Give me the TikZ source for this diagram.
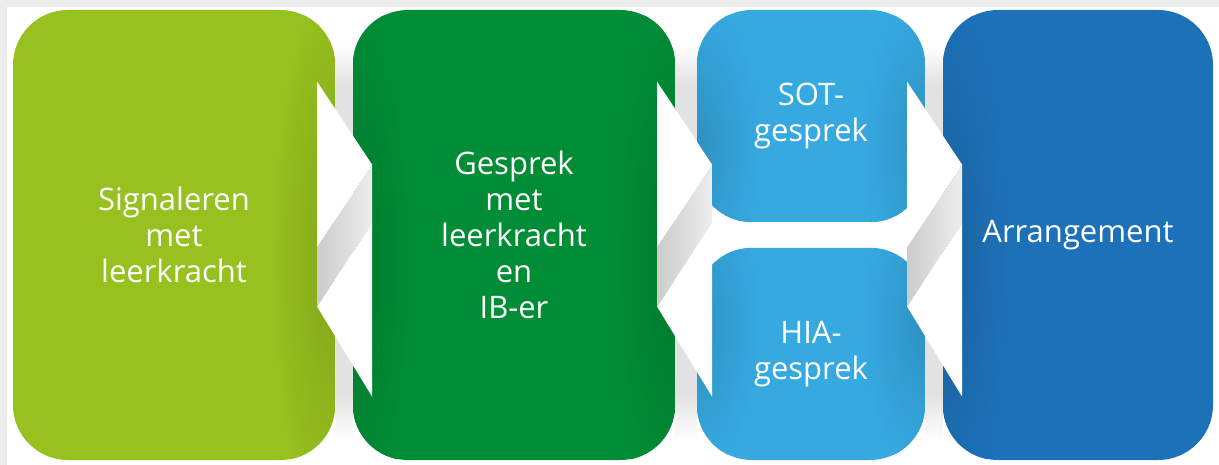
\documentclass[tikz,border=0pt]{standalone}
\usepackage{fontspec}
\setmainfont{Open Sans}
\usetikzlibrary{calc}
\definecolor{limec}{RGB}{150,193,30}
\definecolor{greenc}{RGB}{0,141,54}
\definecolor{lightbluec}{RGB}{54,169,225}
\definecolor{darkbluec}{RGB}{29,113,184}
\definecolor{framec}{RGB}{236,236,236}
\definecolor{gapc}{RGB}{226,226,226}
\newcommand\ribbon[2]{%
  % #1 node on the left, #2 node on the right (for the gap)
  \coordinate (#1-a1) at ($(#1.north east)+(-18,72)$);
  \coordinate (#1-a2) at ($(#1.north east)+(37,155)$);
  \coordinate (#1-a3) at ($(#1.north east)+(-18,237)$);
  \coordinate (#1-b1) at ($(#1.north east)+(37,213)$);
  \coordinate (#1-b2) at ($(#1.north east)+(-18,297)$);
  \coordinate (#1-b3) at ($(#1.north east)+(37,387)$);
  \shade[top color=white, bottom color=gapc]
    ($(#1.north east)+(0,35)$) rectangle ($(#2.west |- #1.north east)+(0,75)$);
  \fill[gapc]
    ($(#1.north east)+(0,74)$) rectangle ($(#2.west |- #1.north east)+(0,386)$);
  \shade[top color=gapc, bottom color=white]
    ($(#1.north east)+(0,385)$) rectangle ($(#2.west |- #1.north east)+(0,430)$);
  \shade[fold] (#1-a2) -- (#1-b1) -- (#1-b2) -- (#1-a3) -- cycle;
  \fill[arrowtri] (#1-a1) -- (#1-a2) -- (#1-a3) -- cycle;
  \fill[arrowtri] (#1-b1) -- (#1-b2) -- (#1-b3) -- cycle;
}
% darker glow on one side of a box, near the arrows
\newcommand\edgeglow[5]{%
  \begin{scope}
    \clip[rounded corners=55pt] (#1.south west) rectangle (#1.north east);
    \shade[inner color=#3!86!black, outer color=#3]
      ($(#1.#2)+(0,#5)$) ellipse [x radius=64pt, y radius=#4pt];
  \end{scope}}
\begin{document}
\begin{tikzpicture}[x=1pt,y=-1pt,
  box/.style={rounded corners=55pt, inner sep=0pt, text=white, align=center,
    font=\fontsize{31}{36}\selectfont},
  fold/.style={left color=gray!40, right color=gray!14},
  arrowtri/.style={white}]
\useasboundingbox (0,0) rectangle (1219,465);
\fill[white] (0,0) rectangle (1219,465);
\fill[framec] (0,0) rectangle (1219,7);
\fill[framec] (0,0) rectangle (7,465);
\node[box, fill=limec, minimum width=322pt, minimum height=450pt] (b1) at (174,235) {};
\node[box, fill=greenc, minimum width=322pt, minimum height=450pt] (b2) at (514,235) {};
\node[box, fill=lightbluec, minimum width=228pt, minimum height=212pt] (b3) at (811,116) {};
\node[box, fill=lightbluec, minimum width=228pt, minimum height=212pt] (b4) at (811,354) {};
\node[box, fill=darkbluec, minimum width=270pt, minimum height=450pt] (b5) at (1078,235) {};
\edgeglow{b1}{east}{limec}{280}{25}
\edgeglow{b2}{west}{greenc}{280}{25}
\edgeglow{b2}{east}{greenc}{280}{25}
\edgeglow{b3}{west}{lightbluec}{150}{30}
\edgeglow{b4}{west}{lightbluec}{150}{-30}
\edgeglow{b3}{east}{lightbluec}{150}{30}
\edgeglow{b4}{east}{lightbluec}{150}{-30}
\edgeglow{b5}{west}{darkbluec}{280}{25}
\node[box] at (b1) {Signaleren\\met\\leerkracht};
\node[box] at (b2) {Gesprek\\met\\leerkracht\\en\\IB-er};
\node[box] at (b3) {SOT-\\gesprek};
\node[box] at (b4) {HIA-\\gesprek};
\node[box] at (b5) {Arrangement};
\ribbon{b1}{b2}
\ribbon{b2}{b3}
\ribbon{b3}{b5}
\end{tikzpicture}
\end{document}
